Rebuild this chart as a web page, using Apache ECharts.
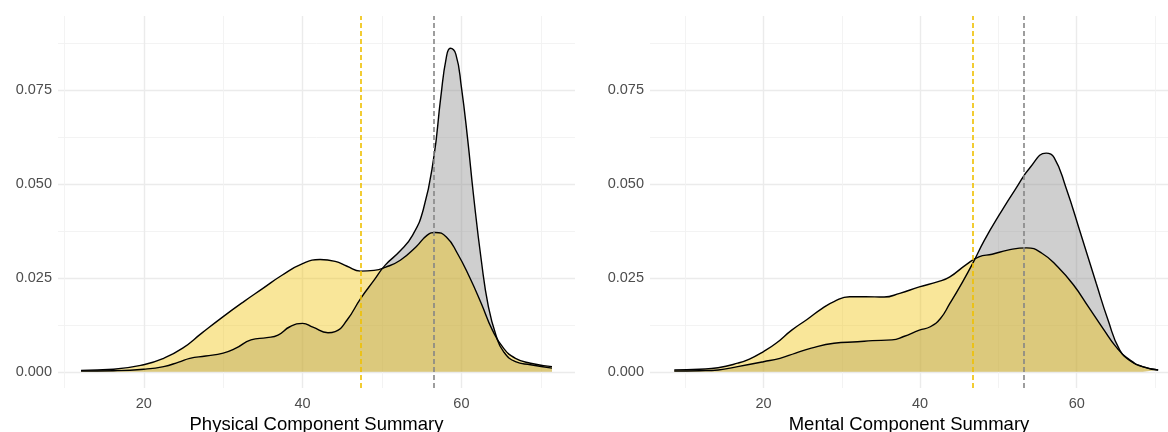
<!DOCTYPE html>
<html>
<head>
<meta charset="utf-8">
<script src="https://cdn.jsdelivr.net/npm/echarts@6/dist/echarts.min.js"></script>
<style>
html,body{margin:0;padding:0;background:#fff;}
#chart{width:1168px;height:432px;}
</style>
</head>
<body>
<div id="chart"></div>
<script>
// ---------- Data ----------
const panelTitles = ['Physical Component Summary', 'Mental Component Summary'];
const xMajorTicks = [20, 40, 60];
const xMinorTicks = [10, 30, 50, 70];
const yMajorTicks = [0, 0.025, 0.05, 0.075];
const yMinorTicks = [0.0125, 0.0375, 0.0625, 0.0875];

// Physical Component Summary - grey group
const pcsGreyX = [12.1, 16.2, 20, 22.5, 24.4, 25.8, 27.8, 30, 31.6, 33.5, 35.5, 36.9, 38.4, 40, 41.3, 43.2, 44.1, 45.6, 47.3, 49, 50.4, 52.3, 53.8, 55.2, 56.5, 57.4, 58.1, 58.6, 59.3, 60, 60.8, 61.5, 62.5, 63.4, 64.4, 65.3, 66.8, 68.7, 71.4];
const pcsGreyY = [0.0002, 0.0003, 0.0007, 0.0014, 0.0026, 0.0036, 0.0042, 0.0050, 0.0063, 0.0085, 0.0091, 0.0098, 0.0120, 0.0129, 0.0119, 0.0104, 0.0107, 0.0138, 0.0195, 0.0244, 0.0284, 0.0322, 0.0362, 0.0432, 0.0568, 0.0731, 0.0837, 0.0861, 0.0845, 0.0757, 0.0616, 0.0474, 0.0297, 0.0173, 0.0094, 0.0054, 0.0027, 0.0019, 0.0010];
// Physical Component Summary - yellow group
const pcsYellowX = [12.1, 16.2, 20, 22.5, 24.9, 27.3, 30, 32.6, 35, 37.4, 40, 42.2, 44.1, 45.6, 47.3, 49, 50.4, 52.3, 54.3, 55.7, 56.7, 58.1, 59.5, 61, 62.5, 63.9, 65.3, 66.8, 68.7, 71.4];
const pcsYellowY = [0.0004, 0.0007, 0.0019, 0.0036, 0.0063, 0.0103, 0.0147, 0.0187, 0.0222, 0.0257, 0.0288, 0.0299, 0.0294, 0.0281, 0.0268, 0.0270, 0.0278, 0.0297, 0.0333, 0.0364, 0.0371, 0.0359, 0.0315, 0.0253, 0.0182, 0.0111, 0.0063, 0.0036, 0.0023, 0.0014];
// Mental Component Summary - grey group
const mcsGreyX = [8.6, 11.8, 14.2, 16.7, 20, 22.1, 24.1, 26.1, 29, 32, 33.9, 36.4, 37.9, 39.9, 41.3, 42.6, 43.8, 45.3, 46.7, 48.2, 50.2, 52.2, 54.1, 56.1, 57.1, 58.6, 60.5, 62.5, 64, 65.5, 67, 68.4, 70.4];
const mcsGreyY = [0.0002, 0.0003, 0.0005, 0.0014, 0.0027, 0.0036, 0.0050, 0.0063, 0.0076, 0.0080, 0.0083, 0.0085, 0.0094, 0.0111, 0.0120, 0.0142, 0.0182, 0.0235, 0.0288, 0.0350, 0.0421, 0.0487, 0.0545, 0.0582, 0.0571, 0.0492, 0.0368, 0.0235, 0.0138, 0.0058, 0.0027, 0.0014, 0.0005];
// Mental Component Summary - yellow group
const mcsYellowX = [8.6, 11.8, 14.2, 16.7, 18.2, 20, 21.6, 23.6, 25.6, 27.5, 29, 31, 33, 35.4, 37.4, 39.9, 42.3, 43.8, 45.8, 47.5, 49.2, 51.2, 53.6, 55.6, 57.6, 59.6, 61.5, 63.5, 65, 66.5, 68.4, 70.4];
const mcsYellowY = [0.0005, 0.0007, 0.0011, 0.0023, 0.0034, 0.0054, 0.0076, 0.0111, 0.0140, 0.0169, 0.0187, 0.0200, 0.0200, 0.0199, 0.0209, 0.0226, 0.0240, 0.0253, 0.0284, 0.0306, 0.0313, 0.0324, 0.0330, 0.0315, 0.0279, 0.0231, 0.0173, 0.0111, 0.0067, 0.0036, 0.0014, 0.0005];

// group means (dashed lines)
const pcsMeans = { yellow: 47.3, grey: 56.5 };
const mcsMeans = { yellow: 46.75, grey: 53.2 };

// ---------- Styling ----------
const YELLOW = '#EFC000', GREY = '#868686';
const pairs = (xs, ys) => xs.map((x, i) => [x, ys[i]]);
const majorLine = { show: true, lineStyle: { color: '#EBEBEB', width: 1.4 } };
const minorLine = { show: true, lineStyle: { color: '#F2F2F2', width: 0.9 } };
const labelStyle = { color: '#4D4D4D', fontSize: 14.5, fontFamily: 'Liberation Sans, Arial, sans-serif' };

const xRanges = [[9.2, 74.3], [5.5, 71.66]];
const yRange = [-0.0043, 0.0947];

const xAxes = [], yAxes = [];
[0, 1].forEach(g => {
  xAxes.push({
    type: 'value', gridIndex: g, min: xRanges[g][0], max: xRanges[g][1],
    axisLine: { show: false },
    axisTick: { show: false, customValues: xMajorTicks },
    axisLabel: Object.assign({ customValues: xMajorTicks, margin: 8 }, labelStyle),
    splitLine: majorLine,
    name: panelTitles[g], nameLocation: 'middle', nameGap: 27,
    nameTextStyle: { color: '#000', fontSize: 18.5, fontFamily: 'Liberation Sans, Arial, sans-serif' }
  });
  xAxes.push({
    type: 'value', gridIndex: g, min: xRanges[g][0], max: xRanges[g][1],
    axisLine: { show: false },
    axisTick: { show: false, customValues: xMinorTicks },
    axisLabel: { show: false, customValues: xMinorTicks },
    splitLine: minorLine
  });
  yAxes.push({
    type: 'value', gridIndex: g, min: yRange[0], max: yRange[1], position: 'left',
    axisLine: { show: false },
    axisTick: { show: false, customValues: yMajorTicks },
    axisLabel: Object.assign({ customValues: yMajorTicks, margin: 6, formatter: v => v.toFixed(3) }, labelStyle),
    splitLine: majorLine
  });
  yAxes.push({
    type: 'value', gridIndex: g, min: yRange[0], max: yRange[1], position: 'left',
    axisLine: { show: false },
    axisTick: { show: false, customValues: yMinorTicks },
    axisLabel: { show: false, customValues: yMinorTicks },
    splitLine: minorLine
  });
});

function densitySeries(xs, ys, color, panel) {
  return {
    type: 'line', xAxisIndex: panel * 2, yAxisIndex: panel * 2,
    data: pairs(xs, ys), smooth: 0.5, showSymbol: false, silent: true,
    lineStyle: { color: '#000', width: 1.4 },
    areaStyle: { color: color, opacity: 0.4 }
  };
}
function meanLine(value, color, panel) {
  return {
    type: 'line', xAxisIndex: panel * 2, yAxisIndex: panel * 2, data: [], silent: true,
    markLine: {
      silent: true, symbol: ['none', 'none'], label: { show: false },
      lineStyle: { color: color, type: [5, 3], width: 1.6, opacity: 1 },
      data: [{ xAxis: value }]
    }
  };
}

const option = {
  animation: false,
  backgroundColor: '#fff',
  grid: [
    { left: 58, top: 16, width: 517, height: 372, outerBoundsMode: 'none', containLabel: false },
    { left: 650, top: 16, width: 518, height: 372, outerBoundsMode: 'none', containLabel: false }
  ],
  xAxis: xAxes,
  yAxis: yAxes,
  series: [
    densitySeries(pcsGreyX, pcsGreyY, GREY, 0),
    densitySeries(pcsYellowX, pcsYellowY, YELLOW, 0),
    meanLine(pcsMeans.yellow, YELLOW, 0),
    meanLine(pcsMeans.grey, GREY, 0),
    densitySeries(mcsGreyX, mcsGreyY, GREY, 1),
    densitySeries(mcsYellowX, mcsYellowY, YELLOW, 1),
    meanLine(mcsMeans.yellow, YELLOW, 1),
    meanLine(mcsMeans.grey, GREY, 1)
  ]
};
const chart = echarts.init(document.getElementById('chart'), null, { renderer: 'canvas' });
chart.setOption(option);
</script>
</body>
</html>
